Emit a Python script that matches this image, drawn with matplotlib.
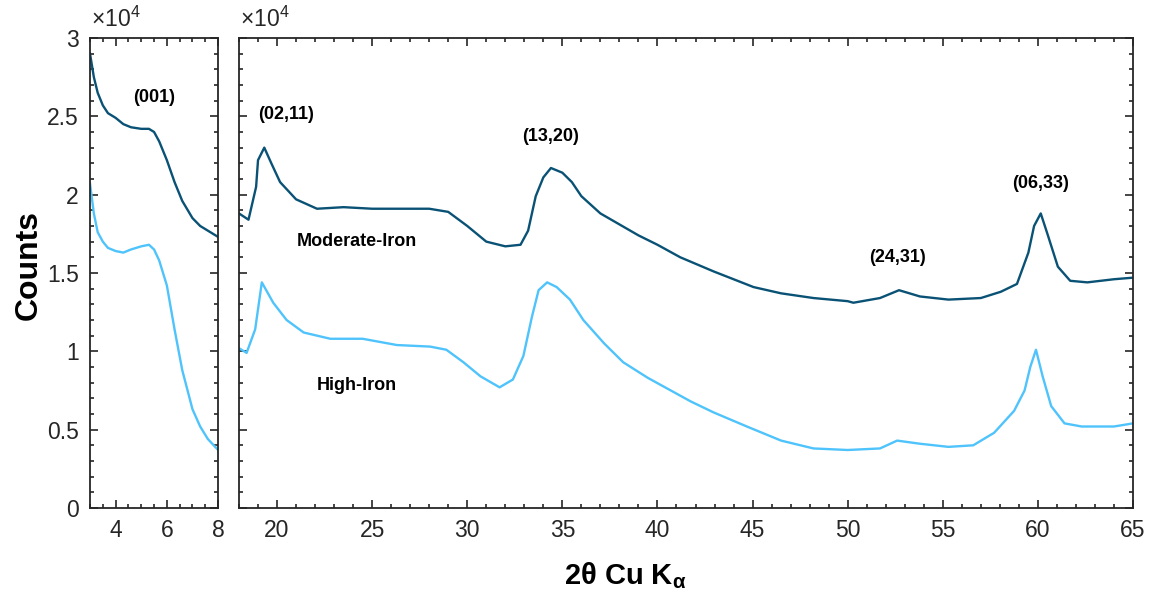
import numpy as np
import matplotlib
matplotlib.use("Agg")
import matplotlib.pyplot as plt
from matplotlib.ticker import MultipleLocator

plt.rcParams['font.family'] = ['Liberation Sans', 'DejaVu Sans']
plt.rcParams['mathtext.fontset'] = 'custom'
plt.rcParams['mathtext.rm'] = 'Liberation Sans'
plt.rcParams['mathtext.bf'] = 'Liberation Sans:bold'

# counts in units of 1e4
# low angle panel (001)
low_x = [3.0, 3.15, 3.3, 3.5, 3.7, 4.0, 4.3, 4.6, 5.0, 5.3, 5.5, 5.7, 6.0, 6.3, 6.6, 7.0, 7.3, 7.6, 8.0]
low_mod = [2.90, 2.75, 2.65, 2.57, 2.52, 2.49, 2.45, 2.43, 2.42, 2.42, 2.40, 2.34, 2.22, 2.08, 1.96, 1.85, 1.80, 1.77, 1.73]
low_high = [2.07, 1.88, 1.76, 1.70, 1.66, 1.64, 1.63, 1.65, 1.67, 1.68, 1.65, 1.58, 1.42, 1.14, 0.88, 0.63, 0.52, 0.44, 0.37]

# wide angle, moderate-iron
mod_x = [18.0, 18.5, 18.9, 19.0, 19.33, 19.7, 20.16, 21.0, 22.1, 23.5, 25.0, 26.5, 28.0, 29.0, 30.0,
         31.0, 32.0, 32.8, 33.2, 33.6, 34.0, 34.4, 35.0, 35.5, 36.0, 37.0, 38.0, 39.0, 40.0, 41.2,
         42.95, 45.05, 46.5, 48.2, 50.0, 50.3, 51.7, 52.7, 53.8, 55.3, 57.0, 58.05, 58.9, 59.5, 59.8,
         60.15, 60.5, 61.05, 61.7, 62.6, 64.0, 65.0]
mod_y = [1.88, 1.84, 2.05, 2.22, 2.30, 2.20, 2.08, 1.97, 1.91, 1.92, 1.91, 1.91, 1.91, 1.89, 1.80,
         1.70, 1.67, 1.68, 1.77, 1.99, 2.11, 2.17, 2.14, 2.08, 1.99, 1.88, 1.81, 1.74, 1.68, 1.60,
         1.51, 1.41, 1.37, 1.34, 1.32, 1.31, 1.34, 1.39, 1.35, 1.33, 1.34, 1.38, 1.43, 1.63, 1.80,
         1.88, 1.75, 1.54, 1.45, 1.44, 1.46, 1.47]

# wide angle, high-iron
high_x = [18.0, 18.4, 18.85, 19.2, 19.8, 20.5, 21.4, 22.8, 24.5, 26.3, 28.05, 28.9, 29.8, 30.7,
          31.7, 32.4, 32.95, 33.4, 33.75, 34.2, 34.7, 35.4, 36.1, 37.2, 38.2, 39.5, 40.7, 41.75,
          42.95, 44.7, 46.5, 48.2, 50.0, 51.7, 52.6, 53.8, 55.3, 56.6, 57.7, 58.75, 59.3, 59.6,
          59.9, 60.25, 60.7, 61.4, 62.3, 64.0, 65.0]
high_y = [1.02, 0.99, 1.14, 1.44, 1.31, 1.20, 1.12, 1.08, 1.08, 1.04, 1.03, 1.01, 0.93, 0.84,
          0.77, 0.82, 0.97, 1.22, 1.39, 1.44, 1.41, 1.33, 1.20, 1.05, 0.93, 0.83, 0.75, 0.68,
          0.61, 0.52, 0.43, 0.38, 0.37, 0.38, 0.43, 0.41, 0.39, 0.40, 0.48, 0.62, 0.75, 0.90,
          1.01, 0.84, 0.65, 0.54, 0.52, 0.52, 0.54]

dark = '#0a5275'
light = '#4fc3fb'
axc = '#262626'

fig = plt.figure(figsize=(11.54, 5.96), dpi=100)
ax1 = fig.add_axes([0.078, 0.1477, 0.111, 0.7886])
ax2 = fig.add_axes([0.2071, 0.1477, 0.7747, 0.7886])

ax1.plot(low_x, low_mod, color=dark, lw=1.7)
ax1.plot(low_x, low_high, color=light, lw=1.7)
ax2.plot(mod_x, mod_y, color=dark, lw=1.7)
ax2.plot(high_x, high_y, color=light, lw=1.7)

ax1.set_xlim(3, 8)
ax2.set_xlim(18, 65)
for ax in (ax1, ax2):
    ax.set_ylim(0, 3)
    ax.yaxis.set_major_locator(MultipleLocator(0.5))
    ax.yaxis.set_minor_locator(MultipleLocator(0.1))
    ax.tick_params(which='both', direction='in', top=True, right=True,
                   colors=axc, labelsize=16.5, width=1.2)
    ax.tick_params(which='major', length=6, pad=8)
    ax.tick_params(which='minor', length=3)
    for s in ax.spines.values():
        s.set_color(axc)
        s.set_linewidth(1.3)

ax1.xaxis.set_minor_locator(MultipleLocator(0.5))
ax1.set_xticks([4, 6, 8])
ax1.set_yticks([0, 0.5, 1, 1.5, 2, 2.5, 3])
ax1.set_yticklabels(['0', '0.5', '1', '1.5', '2', '2.5', '3'])
ax2.xaxis.set_minor_locator(MultipleLocator(1))
ax2.set_xticks([20, 25, 30, 35, 40, 45, 50, 55, 60, 65])
ax2.tick_params(axis='y', labelleft=False)

# offset labels
fig.text(0.079, 0.968, r'$\times$10$^4$', fontsize=16.5, color=axc, va='center')
fig.text(0.208, 0.968, r'$\times$10$^4$', fontsize=16.5, color=axc, va='center')

# peak labels
lab = dict(fontsize=13, fontweight='bold', ha='center', va='center')
ax1.text(5.5, 2.62, '(001)', **lab)
ax2.text(20.5, 2.51, '(02,11)', **lab)
ax2.text(34.4, 2.37, '(13,20)', **lab)
ax2.text(52.6, 1.60, '(24,31)', **lab)
ax2.text(60.15, 2.07, '(06,33)', **lab)
ax2.text(24.2, 1.70, 'Moderate-Iron', **lab)
ax2.text(24.2, 0.78, 'High-Iron', **lab)

fig.text(0.025, 0.555, 'Counts', fontsize=23, fontweight='bold', rotation=90,
         ha='center', va='center')
fig.text(0.542, 0.035, r'2θ Cu K$_{\mathbf{\alpha}}$', fontsize=21, fontweight='bold',
         ha='center', va='center')

fig.savefig('out.png', dpi=100)
